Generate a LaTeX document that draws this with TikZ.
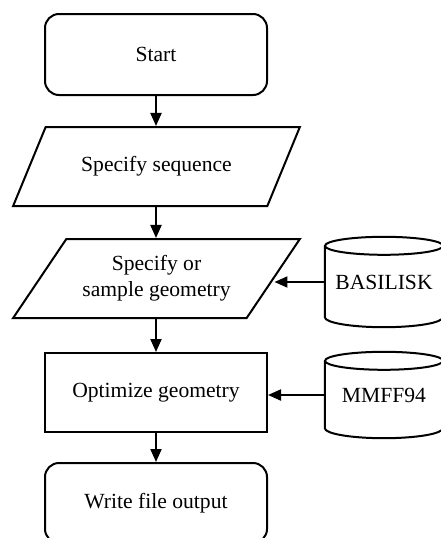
\documentclass[tikz,border=0pt]{standalone}
\usepackage{fontspec}
\setmainfont{Liberation Serif}
\usetikzlibrary{shapes.geometric,arrows.meta}
\begin{document}
\begin{tikzpicture}[x=1pt,y=1pt,
  every node/.style={font=\fontsize{21.6}{26}\selectfont},
  line/.style={line width=2pt},
  term/.style={draw, line width=2pt, rounded corners=14pt, minimum width=222pt, minimum height=81pt, align=center},
  proc/.style={draw, line width=2pt, minimum width=222pt, minimum height=79pt, align=center},
  io/.style={draw, line width=2pt, trapezium, trapezium left angle=49, trapezium right angle=131, trapezium stretches=true, minimum width=287pt, minimum height=79pt, align=center},
  db/.style={minimum width=118pt, minimum height=90pt, inner sep=0pt},
  arr/.style={line width=2pt, -{Triangle[length=13pt,width=11pt]}}
]
\useasboundingbox (0,0) rectangle (441,-538);
\clip (0,0) rectangle (441,-538);

\node[term] (start) at (156,-54.5) {Start};
\node[io] (seq) at (156.5,-166.5) {Specify sequence};
\node[io] (geo) at (156.5,-278.5) {Specify or\\sample geometry};
\node[proc] (opt) at (156,-392.5) {Optimize geometry};
\node[term, minimum height=80pt] (out) at (156,-503) {Write file output};

\node[db] (bas) at (384,-282) {\raisebox{-4pt}{BASILISK}};
\node[db, minimum height=86pt] (mm) at (384,-395) {\raisebox{-4pt}{MMFF94}};

% cylinders
\draw[line] ([yshift=-9pt]bas.north west) -- ([yshift=10pt]bas.south west)
  arc[start angle=180, end angle=360, x radius=59, y radius=10] -- ([yshift=-9pt]bas.north east);
\draw[line] ([yshift=-9pt]bas.north) ellipse[x radius=59, y radius=9];
\draw[line] ([yshift=-9pt]mm.north west) -- ([yshift=10pt]mm.south west)
  arc[start angle=180, end angle=360, x radius=59, y radius=10] -- ([yshift=-9pt]mm.north east);
\draw[line] ([yshift=-9pt]mm.north) ellipse[x radius=59, y radius=9];

% connectors
\draw[arr] (start.south) -- (start.south |- seq.north);
\draw[arr] (start.south |- seq.south) -- (start.south |- geo.north);
\draw[arr] (start.south |- geo.south) -- (opt.north);
\draw[arr] (opt.south) -- (out.north);
\draw[arr] (bas.west) -- (bas.west -| geo.east);
\draw[arr] (mm.west) -- (mm.west -| opt.east);
\end{tikzpicture}
\end{document}
